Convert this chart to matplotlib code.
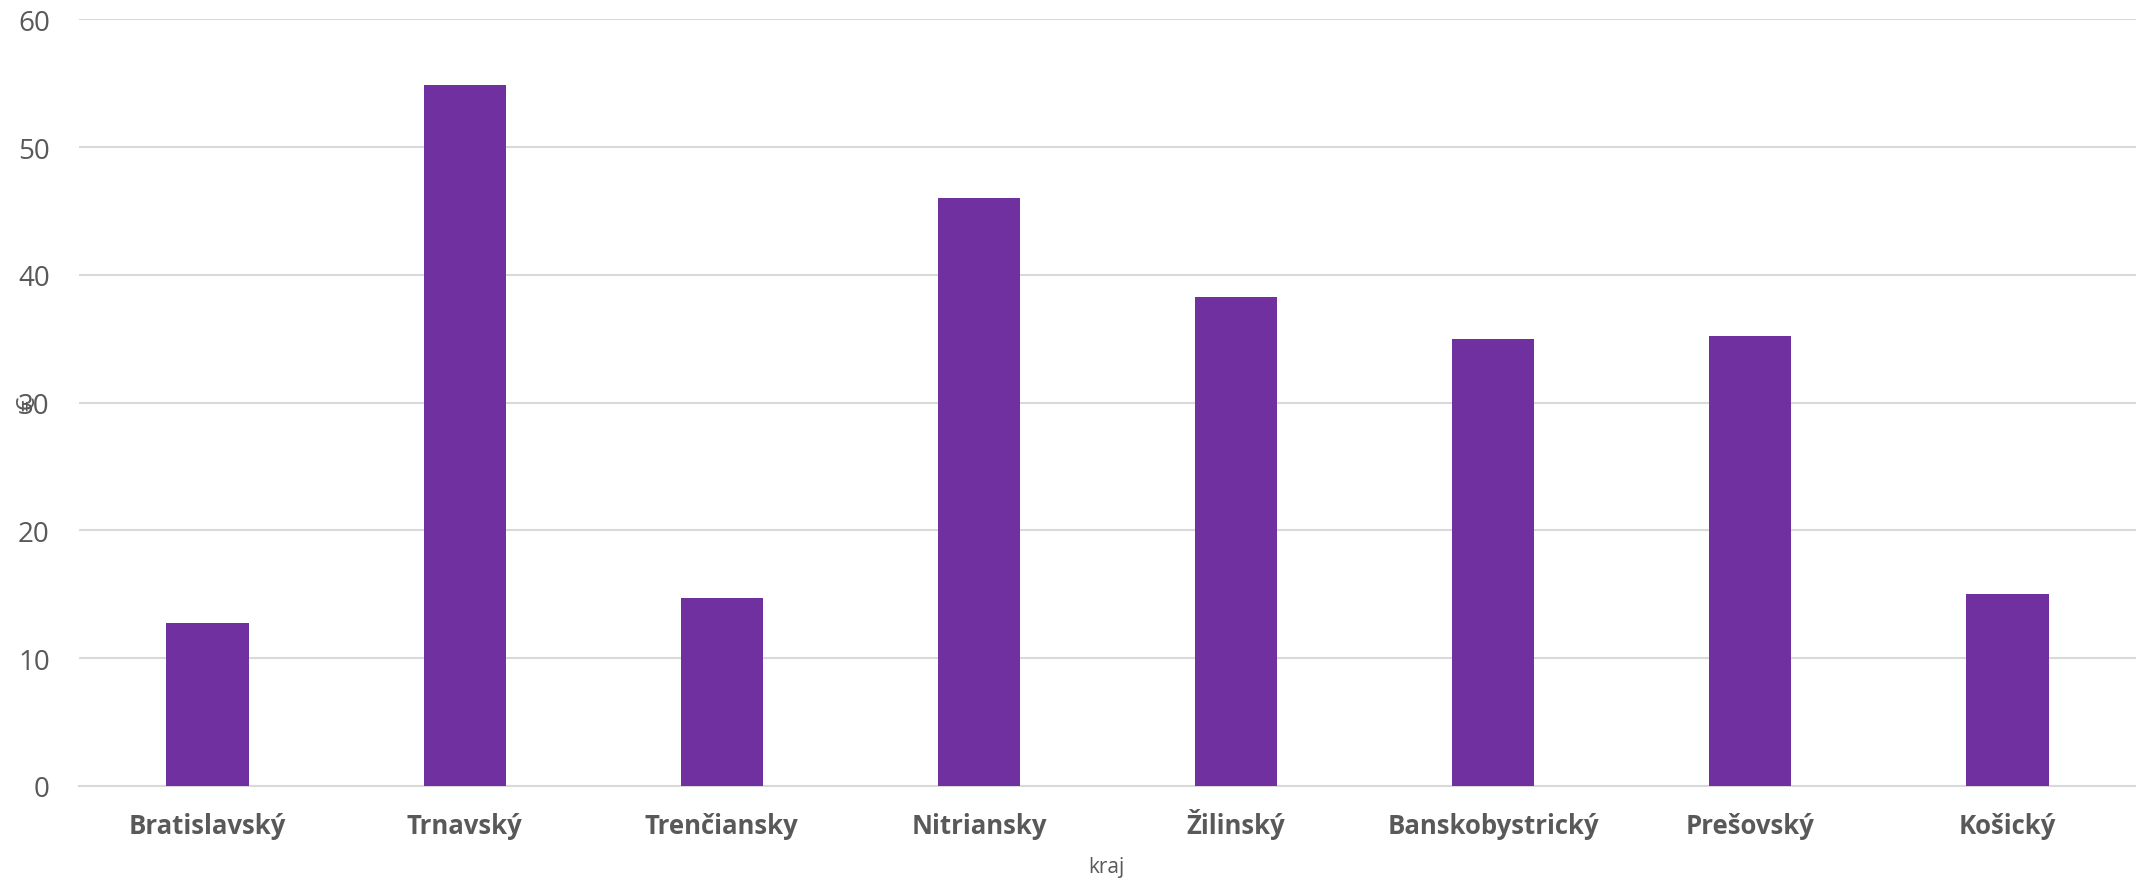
import matplotlib
matplotlib.use('Agg')
import matplotlib.pyplot as plt

# data
regions = ['Bratislavský', 'Trnavský', 'Trenčiansky', 'Nitriansky',
           'Žilinský', 'Banskobystrický', 'Prešovský', 'Košický']
values = [12.74, 54.87, 14.70, 46.02, 38.27, 34.98, 35.22, 15.01]
yticks = [0, 10, 20, 30, 40, 50, 60]

plt.rcParams['font.family'] = ['Open Sans', 'DejaVu Sans']

fig = plt.figure(figsize=(21.36, 8.87), dpi=100)
ax = fig.add_axes([0.037, 0.113, 0.963, 0.864])

x = range(len(regions))
ax.bar(x, values, width=0.32, color='#7030A0', zorder=3)

ax.set_xlim(-0.5, len(regions) - 0.5)
ax.set_ylim(0, 60)
ax.set_yticks(yticks)
ax.set_xticks(list(x))
ax.set_xticklabels(regions, fontsize=18.5, fontweight='bold', color='#595959')
# baseline alignment so the caron on Ž does not push the label down
for lbl in ax.get_xticklabels():
    lbl.set_va('baseline')
ax.tick_params(axis='y', length=0, pad=21, labelsize=20, labelcolor='#595959')
ax.tick_params(axis='x', length=0, pad=34)

ax.grid(axis='y', color='#d9d9d9', linewidth=1.5, zorder=0)
for s in ['top', 'right', 'left']:
    ax.spines[s].set_visible(False)
ax.spines['bottom'].set_color('#d9d9d9')
ax.spines['bottom'].set_linewidth(1.5)

fig.text(0.518, 0.010, 'kraj', ha='center', va='bottom', fontsize=15, color='#595959')
fig.text(0.013, 0.545, '€', ha='center', va='center', rotation=90, fontsize=18, color='#595959')

fig.savefig('out.png', dpi=100)
